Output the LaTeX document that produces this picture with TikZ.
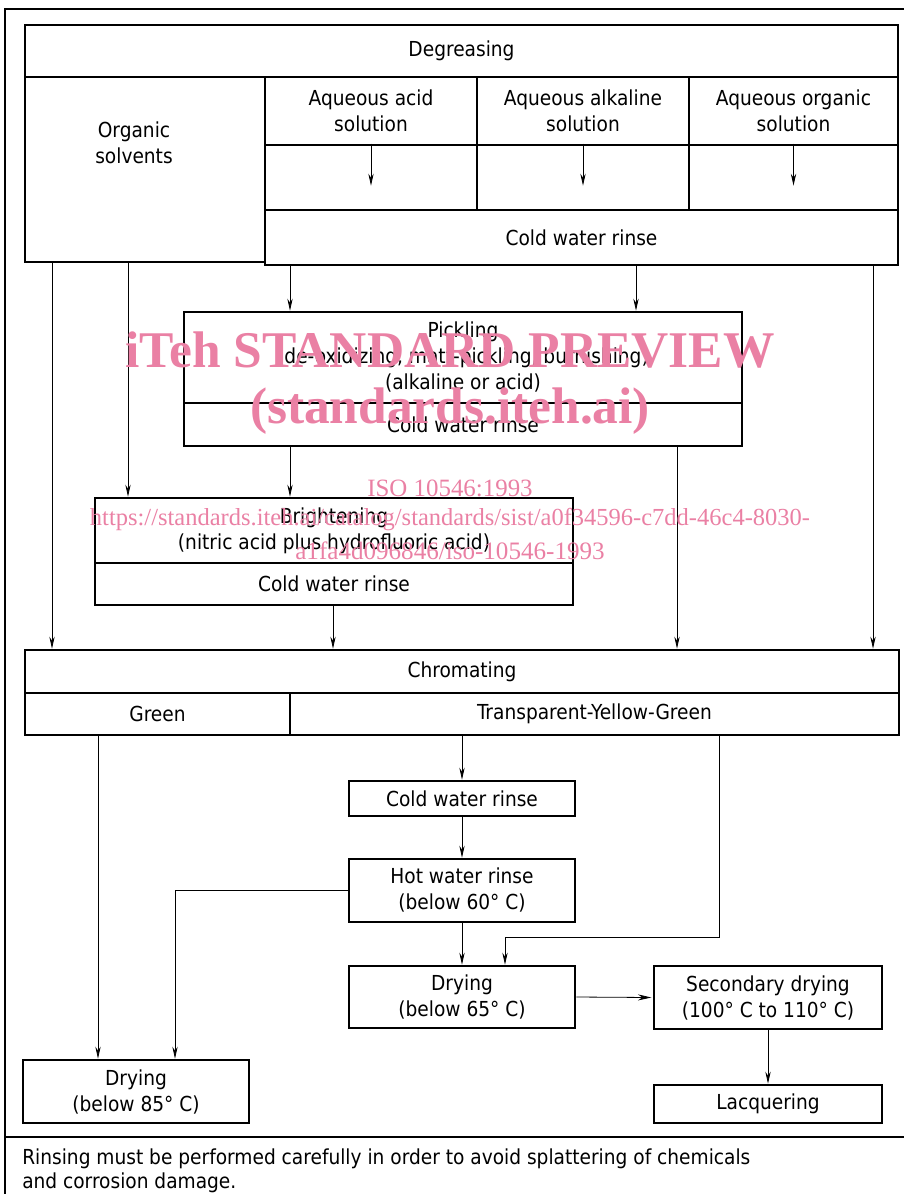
\documentclass[tikz,border=0pt]{standalone}
\usepackage{fontspec}
\setmainfont{DejaVu Sans Condensed}
\newfontfamily\wmfont{Liberation Serif}
\usetikzlibrary{arrows.meta}

\definecolor{wmpink}{RGB}{234,128,164}

\begin{document}
\begin{tikzpicture}[
  x=0.75pt, y=-0.75pt,
  every node/.style={font=\fontsize{15.5}{19.5}\selectfont},
  box/.style={draw, line width=2pt, inner sep=0pt, align=center},
  span/.style 2 args={minimum width=#1*0.75pt, minimum height=#2*0.75pt},
  arr/.style={line width=0.6pt, -{Stealth[length=9pt,width=4pt,inset=3pt]}},
  wm/.style={text=wmpink, inner sep=0pt}
]
\useasboundingbox (0,0) rectangle (903,1194);
% frame
\draw[line width=2pt] (5,1200) |- (910,9);
\draw[line width=2pt] (5,1137) -- (910,1137);

% degreasing
\node[box, span={873}{52}] (degr) at (461.5,51) {Degreasing};
\node[box, span={240}{185}] (orgsolv) at (145,169.5) {};
\node[align=center] (orgtxt) at (134,143) {Organic\\solvents};
\node[box, span={212}{68}] (acid) at (371,111) {Aqueous acid\\solution};
\node[box, span={212}{68}] (alk) at (583,111) {Aqueous alkaline\\solution};
\node[box, span={209}{68}] (aorg) at (793.5,111) {Aqueous organic\\solution};
\node[box, span={212}{65}] (acidA) at (371,177.5) {};
\node[box, span={212}{65}] (alkA) at (583,177.5) {};
\node[box, span={209}{65}] (aorgA) at (793.5,177.5) {};
\node[box, span={633}{55}] (rinse1) at (581.5,237.5) {Cold water rinse};
\draw[arr] (acidA.north) -- ++(0,42);
\draw[arr] (alkA.north) -- ++(0,42);
\draw[arr] (aorgA.north) -- ++(0,42);

% pickling, brightening
\node[box, span={558}{91}] (pickle) at (463,357.5) {Pickling\\(de-oxidizing, matt-pickling, burnishing)\\(alkaline or acid)};
\node[box, span={558}{43}] (rinse2) at (463,424.5) {Cold water rinse};
\node[box, span={478}{65}] (bright) at (334,530.5) {Brightening\\(nitric acid plus hydrofluoric acid)};
\node[box, span={478}{42}] (rinse3) at (334,584) {Cold water rinse};

% chromating
\node[box, span={874}{43}] (chrom) at (462,671.5) {Chromating};
\node[box, span={265}{42}] (green) at (157.5,714) {Green};
\node[box, span={609}{42}] (tyg) at (594.5,714) {Transparent-Yellow-Green};

\node[box, span={226}{35}] (rinse4) at (462,798.5) {Cold water rinse};
\node[box, span={226}{63}] (hot) at (462,890.5) {Hot water rinse\\(below 60° C)};
\node[box, span={226}{62}] (dry65) at (462,997) {Drying\\(below 65° C)};
\node[box, span={228}{63}] (dry2) at (768,997.5) {Secondary drying\\(100° C to 110° C)};
\node[box, span={228}{38}] (lacq) at (768,1104) {Lacquering};
\node[box, span={226}{63}] (dry85) at (136,1091.5) {Drying\\(below 85° C)};

% connectors
\draw[arr] (orgsolv.south -| 52,0) -- (chrom.north -| 52,0);
\draw[arr] (orgsolv.south -| 128,0) -- (bright.north -| 128,0);
\draw[arr] (rinse1.south -| 290,0) -- (pickle.north -| 290,0);
\draw[arr] (rinse1.south -| 636,0) -- (pickle.north -| 636,0);
\draw[arr] (rinse1.south -| 873,0) -- (chrom.north -| 873,0);
\draw[arr] (rinse2.south -| 290,0) -- (bright.north -| 290,0);
\draw[arr] (rinse2.south -| 677,0) -- (chrom.north -| 677,0);
\draw[arr] (rinse3.south -| 333,0) -- (chrom.north -| 333,0);
\draw[arr] (green.south -| 98,0) -- (dry85.north -| 98,0);
\draw[arr] (tyg.south -| rinse4.north) -- (rinse4.north);
\draw[arr] (rinse4.south) -- (hot.north);
\draw[arr] (hot.west) -| (dry85.north -| 175,0);
\draw[arr] (hot.south) -- (dry65.north -| hot.south);
\draw[arr] (tyg.south -| 719,0) |- (505,937) -- (dry65.north -| 505,0);
\draw[line width=0.6pt, -{Stealth[length=10pt,width=4.5pt]}] (dry65.east) -- ([xshift=-1pt]dry2.west);
\draw[arr] (dry2.south) -- (lacq.north);

% note
\node[anchor=base west, inner sep=0pt] (note1) at (22,1164)
  {Rinsing must be performed carefully in order to avoid splattering of chemicals};
\node[anchor=base west, inner sep=0pt] (note2) at (22,1188) {and corrosion damage.};

% watermark
\node[wm] (wm1) at (450,350) {\resizebox{487pt}{!}{\wmfont\bfseries iTeh STANDARD PREVIEW}};
\node[wm] (wm2) at (450,411) {\resizebox{300pt}{!}{\wmfont\bfseries (standards.iteh.ai)}};
\node[wm] (wm3) at (450,488) {\resizebox{124pt}{!}{\wmfont ISO 10546:1993}};
\node[wm] (wm4) at (450,520) {\resizebox{540pt}{!}{\wmfont https://standards.iteh.ai/catalog/standards/sist/a0f34596-c7dd-46c4-8030-}};
\node[wm] (wm5) at (450,551) {\resizebox{232pt}{!}{\wmfont a1fa4d096846/iso-10546-1993}};
\end{tikzpicture}
\end{document}
